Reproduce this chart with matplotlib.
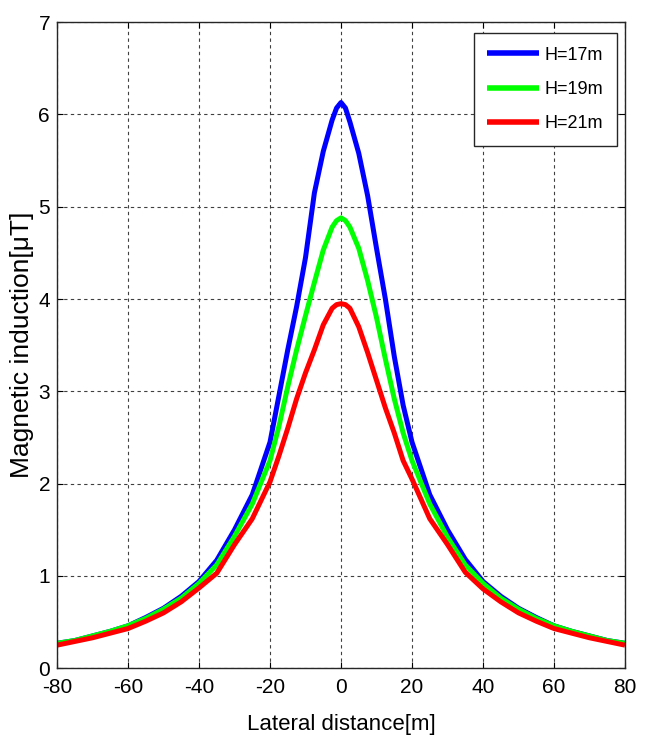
import numpy as np
import matplotlib
matplotlib.use("Agg")
from matplotlib import pyplot as plt

# -------------------- Data --------------------
# lateral distance from the line axis [m]
lateral = [-80, -75, -70, -65, -60, -55, -50, -45, -40, -35, -30, -25,
           -20, -17.5, -15, -12.5, -10, -7.5, -5, -2.5, -1.25, 0,
           1.25, 2.5, 5, 7.5, 10, 12.5, 15, 17.5, 20,
           25, 30, 35, 40, 45, 50, 55, 60, 65, 70, 75, 80]

# magnetic induction [uT] for three conductor heights
b_h17 = [0.27, 0.30, 0.35, 0.40, 0.46, 0.55, 0.65, 0.78, 0.94, 1.17, 1.50, 1.88,
         2.45, 2.95, 3.45, 3.92, 4.45, 5.15, 5.60, 5.94, 6.07, 6.13,
         6.07, 5.92, 5.58, 5.12, 4.55, 4.00, 3.38, 2.85, 2.45,
         1.88, 1.50, 1.18, 0.94, 0.78, 0.65, 0.55, 0.46, 0.40, 0.35, 0.30, 0.27]
b_h19 = [0.27, 0.30, 0.35, 0.40, 0.46, 0.54, 0.64, 0.76, 0.92, 1.12, 1.43, 1.78,
         2.25, 2.62, 3.05, 3.45, 3.82, 4.18, 4.53, 4.78, 4.85, 4.88,
         4.85, 4.78, 4.55, 4.20, 3.80, 3.35, 2.92, 2.55, 2.25,
         1.78, 1.42, 1.12, 0.92, 0.76, 0.64, 0.54, 0.46, 0.40, 0.35, 0.30, 0.27]
b_h21 = [0.25, 0.29, 0.33, 0.38, 0.43, 0.51, 0.60, 0.72, 0.87, 1.03, 1.34, 1.62,
         2.02, 2.30, 2.60, 2.92, 3.20, 3.45, 3.72, 3.90, 3.94, 3.95,
         3.94, 3.90, 3.70, 3.42, 3.12, 2.82, 2.55, 2.25, 2.05,
         1.62, 1.34, 1.04, 0.86, 0.72, 0.60, 0.51, 0.43, 0.38, 0.33, 0.29, 0.25]

labels = ["H=17m", "H=19m", "H=21m"]
colors = ["#0000ff", "#00ff00", "#ff0000"]

x_ticks = [-80, -60, -40, -20, 0, 20, 40, 60, 80]
y_ticks = [0, 1, 2, 3, 4, 5, 6, 7]

# -------------------- Plot --------------------
plt.rcParams["font.family"] = ["Liberation Sans", "DejaVu Sans"]
plt.rcParams["axes.unicode_minus"] = False

fig = plt.figure(figsize=(6.48, 7.4), dpi=100)
ax = fig.add_axes([0.088, 0.097, 0.8765, 0.873])

for series, lab, col in zip([b_h17, b_h19, b_h21], labels, colors):
    ax.plot(lateral, series, color=col, lw=3.6, label=lab,
            solid_joinstyle="round", solid_capstyle="butt")

ax.set_xlim(-80, 80)
ax.set_ylim(0, 7)
ax.set_xticks(x_ticks)
ax.set_yticks(y_ticks)
ax.tick_params(direction="in", length=4, width=0.8, labelsize=15,
               top=True, right=True)
ax.tick_params(axis="x", pad=7)
ax.tick_params(axis="y", pad=5)
ax.grid(True, color="0.25", linestyle=(0, (3, 3)), linewidth=0.8)
for sp in ax.spines.values():
    sp.set_color("0.15")
    sp.set_linewidth(1.0)

ax.set_xlabel("Lateral distance[m]", fontsize=16, labelpad=12)
ax.set_ylabel("Magnetic induction[\u03bcT]", fontsize=19, labelpad=3)

leg = ax.legend(loc="upper right", bbox_to_anchor=(0.986, 0.983), borderaxespad=0,
                fontsize=13, handlelength=2.9, labelspacing=0.95, frameon=True,
                fancybox=False, edgecolor="0.15", framealpha=1, handletextpad=0.3,
                borderpad=0.75)
leg.get_frame().set_linewidth(1.0)
for ln in leg.get_lines():
    ln.set_linewidth(4.0)

fig.savefig("out.png", dpi=100, facecolor="white")
